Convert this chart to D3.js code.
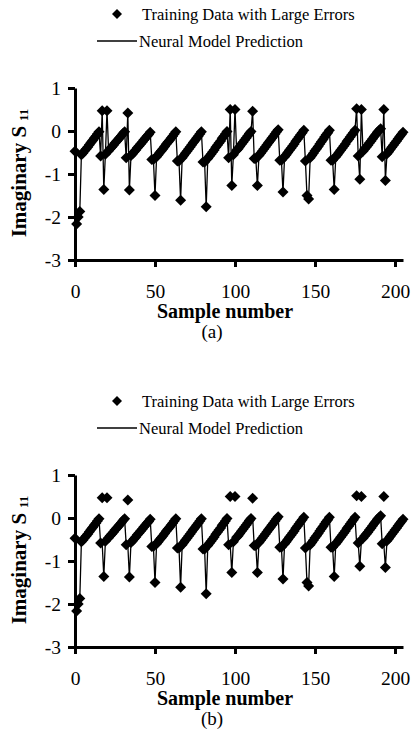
<!DOCTYPE html>
<html>
<head>
<meta charset="utf-8">
<script src="https://cdn.jsdelivr.net/npm/d3@7"></script>
<style>
body { margin: 0; background: #fff; }
text { font-family: "Liberation Serif", "Times New Roman", serif; fill: #000; }
</style>
</head>
<body>
<svg width="411" height="753"></svg>
<script>
// Im(S11) read per sample, one sweep of 16 samples per row
var sweep0  = [-0.47, -2.16, -2.00, -1.87, -0.55, -0.51, -0.46, -0.42, -0.37, -0.32, -0.27, -0.22, -0.17, -0.12, -0.07, -0.02];
var sweep1  = [-0.58, -0.60, -1.36, -0.54, -0.50, -0.46, -0.41, -0.37, -0.33, -0.28, -0.24, -0.20, -0.15, -0.11, -0.06, -0.02];
var sweep2  = [-0.62, -0.63, -1.37, -0.57, -0.53, -0.48, -0.44, -0.39, -0.35, -0.30, -0.26, -0.21, -0.17, -0.12, -0.08, -0.03];
var sweep3  = [-0.66, -0.66, -1.50, -0.60, -0.55, -0.50, -0.46, -0.41, -0.36, -0.31, -0.26, -0.22, -0.17, -0.12, -0.07, -0.02];
var sweep4  = [-0.70, -0.70, -1.61, -0.62, -0.57, -0.52, -0.47, -0.42, -0.37, -0.32, -0.27, -0.22, -0.17, -0.12, -0.07, -0.02];
var sweep5  = [-0.72, -0.72, -1.76, -0.64, -0.59, -0.54, -0.49, -0.44, -0.38, -0.33, -0.28, -0.23, -0.17, -0.12, -0.07, -0.01];
var sweep6  = [-0.62, -0.62, -1.27, -0.55, -0.50, -0.45, -0.41, -0.36, -0.31, -0.26, -0.21, -0.16, -0.11, -0.06, -0.01, 0.03];
var sweep7  = [-0.64, -0.64, -1.27, -0.57, -0.52, -0.47, -0.42, -0.37, -0.32, -0.27, -0.22, -0.17, -0.12, -0.07, -0.02, 0.03];
var sweep8  = [-0.68, -0.68, -1.42, -0.60, -0.55, -0.50, -0.45, -0.40, -0.35, -0.30, -0.24, -0.19, -0.14, -0.09, -0.04, 0.02];
var sweep9  = [-0.70, -1.50, -1.58, -0.62, -0.57, -0.52, -0.46, -0.41, -0.36, -0.30, -0.25, -0.20, -0.14, -0.09, -0.04, 0.02];
var sweep10 = [-0.68, -0.68, -1.36, -0.60, -0.55, -0.50, -0.45, -0.40, -0.35, -0.30, -0.24, -0.19, -0.14, -0.09, -0.04, 0.02];
var sweep11 = [-0.58, -0.58, -1.12, -0.52, -0.47, -0.42, -0.38, -0.33, -0.28, -0.23, -0.18, -0.13, -0.08, -0.03, 0.01, 0.05];
var sweep12 = [-0.60, -0.60, -1.15, -0.53, -0.48, -0.43, -0.38, -0.33, -0.28, -0.23, -0.18, -0.13, -0.08, -0.03];

var cleanData = [].concat(sweep0, sweep1, sweep2, sweep3, sweep4, sweep5, sweep6,
                          sweep7, sweep8, sweep9, sweep10, sweep11, sweep12);

// samples carrying large errors and their corrupted values
var errorSamples = [17, 20, 33, 97, 100, 111, 176, 179, 193];
var errorValues  = [0.47, 0.47, 0.42, 0.50, 0.50, 0.46, 0.52, 0.50, 0.50];

var xTicks = [0, 50, 100, 150, 200];
var yTicks = [1, 0, -1, -2, -3];
var legendLabels = ["Training Data with Large Errors", "Neural Model Prediction"];
var panelLabels = ["(a)", "(b)"];

var trainData = cleanData.map(function(v, i) {
  var k = errorSamples.indexOf(i);
  return k >= 0 ? errorValues[k] : v;
});

var svg = d3.select("svg");
svg.append("rect").attr("width", 411).attr("height", 753).attr("fill", "#fff");

var diamond = "M0,-5.5L5.5,0L0,5.5L-5.5,0Z";

function drawPanel(top, neural, label) {
  var g = svg.append("g").attr("transform", "translate(0," + top + ")");

  var x = d3.scaleLinear().domain([0, 205]).range([75, 403]);
  var y = d3.scaleLinear().domain([-3, 1]).range([260, 88]);

  // legend
  g.append("path").attr("d", "M0,-5L5,0L0,5L-5,0Z")
      .attr("transform", "translate(117,14)");
  g.append("text").attr("x", 142).attr("y", 14).attr("dy", "0.35em")
      .style("font-size", "16.5px").text(legendLabels[0]);
  g.append("line").attr("x1", 97).attr("x2", 137).attr("y1", 41).attr("y2", 41)
      .attr("stroke", "#000").attr("stroke-width", 1.6);
  g.append("text").attr("x", 139).attr("y", 41).attr("dy", "0.35em")
      .style("font-size", "16.5px").text(legendLabels[1]);

  // axes
  var yAxis = g.append("g").attr("transform", "translate(75,0)")
      .call(d3.axisLeft(y).tickValues(yTicks).tickSize(7).tickSizeOuter(0)
        .tickPadding(7).tickFormat(function(d) { return String(d); }));
  var xAxis = g.append("g").attr("transform", "translate(0,260)")
      .call(d3.axisBottom(x).tickValues(xTicks).tickSize(7).tickSizeOuter(0)
        .tickPadding(17));

  [yAxis, xAxis].forEach(function(a) {
    a.select(".domain").attr("stroke-width", 3);
    a.selectAll(".tick line").attr("stroke-width", 3);
    a.selectAll(".tick text").style("font-size", "19.5px")
      .style("font-family", "'Liberation Serif', serif");
  });

  // training points
  g.append("g").selectAll("path")
    .data(trainData)
    .enter().append("path")
      .attr("d", diamond)
      .attr("transform", function(d, i) {
        return "translate(" + x(i) + "," + y(d) + ")";
      });

  // neural model
  var line = d3.line()
      .x(function(d, i) { return x(i); })
      .y(function(d) { return y(d); });
  g.append("path").datum(neural)
      .attr("d", line)
      .attr("fill", "none")
      .attr("stroke", "#000")
      .attr("stroke-width", 1.3);

  // titles
  var yl = g.append("text")
      .attr("transform", "translate(26,173) rotate(-90)")
      .attr("text-anchor", "middle")
      .style("font-size", "21px").style("font-weight", "bold");
  yl.append("tspan").text("Imaginary S");
  yl.append("tspan").attr("dx", 5).attr("dy", 2).style("font-size", "13px").text("11");

  g.append("text").attr("x", 225).attr("y", 318)
      .attr("text-anchor", "middle")
      .style("font-size", "20px").style("font-weight", "bold")
      .text("Sample number");
  g.append("text").attr("x", 212).attr("y", 338)
      .attr("text-anchor", "middle")
      .style("font-size", "19px")
      .text(label);
}

drawPanel(0, trainData, panelLabels[0]);
drawPanel(387, cleanData, panelLabels[1]);
</script>
</body>
</html>
